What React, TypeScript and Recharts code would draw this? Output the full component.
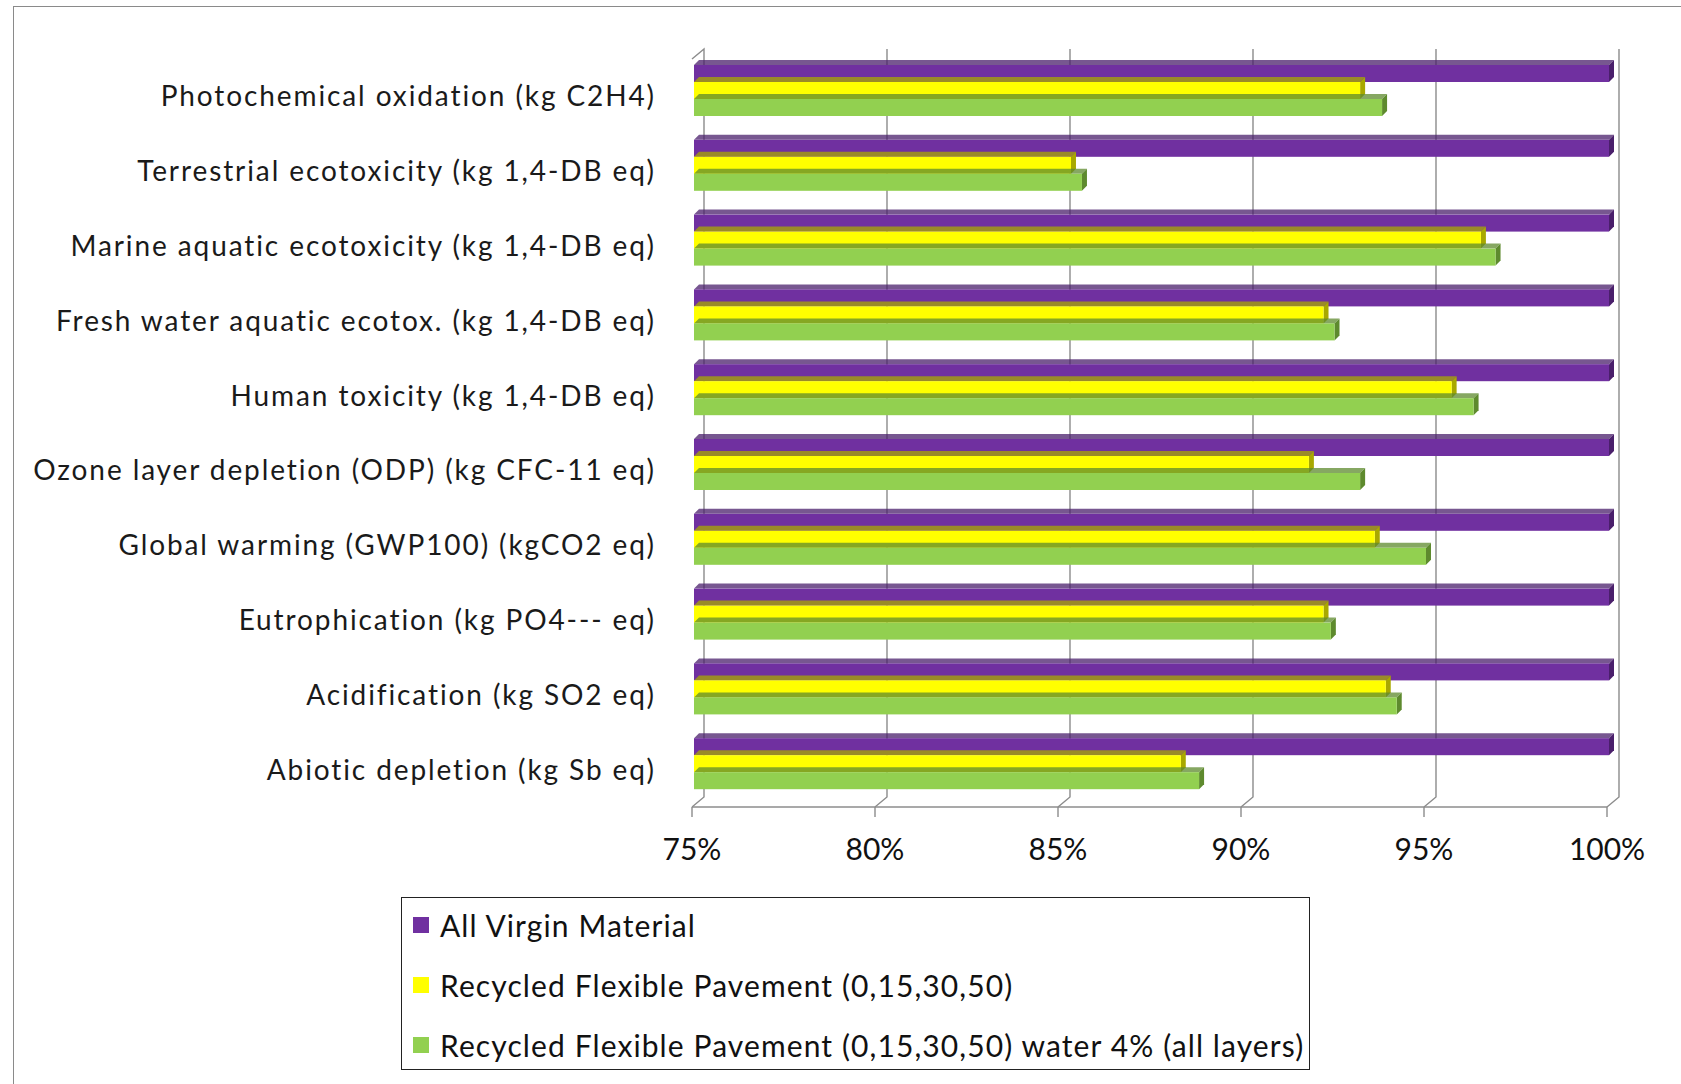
import { BarChart, Bar, XAxis, YAxis, CartesianGrid } from "recharts";

const categories = [
  "Photochemical oxidation (kg C2H4)",
  "Terrestrial ecotoxicity (kg 1,4-DB eq)",
  "Marine aquatic ecotoxicity (kg 1,4-DB eq)",
  "Fresh water aquatic ecotox. (kg 1,4-DB eq)",
  "Human toxicity (kg 1,4-DB eq)",
  "Ozone layer depletion (ODP) (kg CFC-11 eq)",
  "Global warming (GWP100) (kgCO2 eq)",
  "Eutrophication (kg PO4--- eq)",
  "Acidification (kg SO2 eq)",
  "Abiotic depletion (kg Sb eq)",
];

const virgin = [100, 100, 100, 100, 100, 100, 100, 100, 100, 100];
const recycled = [93.2, 85.3, 96.5, 92.2, 95.7, 91.8, 93.6, 92.2, 93.9, 88.3];
const recycledWater = [93.8, 85.6, 96.9, 92.5, 96.3, 93.2, 95.0, 92.4, 94.2, 88.8];

const xTicks = [75, 80, 85, 90, 95, 100];
const edgeTicks = [0, 1, 2, 3, 4, 5, 6, 7, 8, 9, 10];

const seriesKeys = ["virgin", "recycled", "recycledWater"];
const seriesNames = [
  "All Virgin Material",
  "Recycled Flexible Pavement (0,15,30,50)",
  "Recycled Flexible Pavement (0,15,30,50) water 4% (all layers)",
];
const seriesColors = ["#7030A0", "#FFFF00", "#92D050"];
const seriesDark = ["#4a1f6b", "#a8a800", "#5e8a2e"];

const data = categories.map((name, i) => ({
  name,
  virgin: virgin[i],
  recycled: recycled[i],
  recycledWater: recycledWater[i],
}));

// 3d look: depth of the walls and of the bars
const DX = 12;
const DY = 10;
const BD = 5;
const gridColor = "#8c8c8c";

function Bar3D(props: any) {
  const { x: x0, y: y0, width, height, fill, dark } = props;
  if (!width || width <= 0) return null;
  const x = x0 + 2;
  const y = y0 - 6;
  const r = x + width;
  return (
    <g>
      <polygon
        points={`${x},${y} ${x + BD},${y - BD} ${r + BD},${y - BD} ${r},${y}`}
        fill={dark}
        opacity={0.75}
      />
      <polygon
        points={`${r},${y} ${r + BD},${y - BD} ${r + BD},${y + height - BD} ${r},${y + height}`}
        fill={dark}
      />
      <rect x={x} y={y} width={width} height={height} fill={fill} />
    </g>
  );
}

function gridLine(p: any) {
  const { x1, y1, y2 } = p;
  const pts =
    p.index === 0
      ? `${x1},${y1} ${x1 + DX},${y1 - DY} ${x1 + DX},${y2 - DY} ${x1},${y2}`
      : `${x1},${y2} ${x1 + DX},${y2 - DY} ${x1 + DX},${y1 - DY}`;
  return (
    <polyline
      key={p.key}
      points={pts}
      fill="none"
      stroke={gridColor}
      strokeWidth={1.4}
    />
  );
}

function CategoryTick(props: any) {
  const { x, y, payload } = props;
  return (
    <text
      x={x}
      y={y}
      dy={10}
      textAnchor="end"
      fontFamily="Lato"
      fontSize={28}
      letterSpacing={1.9}
      fill="#1a1a1a"
    >
      {payload.value}
    </text>
  );
}

export default function App() {
  return (
    <div
      style={{
        position: "absolute",
        left: 0,
        top: 0,
        width: 1681,
        height: 1084,
        background: "#fff",
        overflow: "hidden",
      }}
    >
      <div
        style={{
          position: "absolute",
          left: 13,
          top: 6,
          width: 1700,
          height: 1100,
          borderTop: "1.5px solid #8a8a8a",
          borderLeft: "1.5px solid #8a8a8a",
        }}
      />
      <div style={{ position: "absolute", left: 0, top: 0 }}>
        <BarChart
          width={1681}
          height={1084}
          data={data}
          layout="vertical"
          margin={{ top: 59, right: 74, bottom: 217, left: 12 }}
          barGap={0}
          barSize={17}
        >
          <CartesianGrid horizontal={false} vertical={gridLine} />
          <XAxis
            type="number"
            domain={[75, 100]}
            ticks={xTicks}
            tickFormatter={(v: number) => `${v}%`}
            height={60}
            tickSize={10}
            tickMargin={22}
            axisLine={{ stroke: gridColor, strokeWidth: 1.4 }}
            tickLine={{ stroke: gridColor, strokeWidth: 1.4 }}
            tick={{ fontFamily: "Lato", fontSize: 30, fill: "#111" }}
          />
          <YAxis
            yAxisId="edges"
            type="number"
            domain={[0, 10]}
            ticks={edgeTicks}
            reversed
            width={0}
            tickSize={9}
            tick={() => <g />}
            axisLine={{ stroke: gridColor, strokeWidth: 1.4 }}
            tickLine={{ stroke: gridColor, strokeWidth: 1.4 }}
          />
          <YAxis
            type="category"
            dataKey="name"
            width={680}
            axisLine={false}
            tickLine={false}
            tickSize={0}
            tickMargin={36}
            tick={<CategoryTick />}
            interval={0}
          />
          {seriesKeys.map((k, i) => (
            <Bar
              key={k}
              dataKey={k}
              name={seriesNames[i]}
              fill={seriesColors[i]}
              isAnimationActive={false}
              shape={(p: any) => <Bar3D {...p} dark={seriesDark[i]} />}
            />
          ))}
        </BarChart>
      </div>
      <div
        style={{
          position: "absolute",
          left: 401,
          top: 897,
          width: 907,
          height: 171,
          border: "1.5px solid #222",
          fontFamily: "Lato",
          fontSize: 30,
          letterSpacing: 1.1,
          color: "#111",
        }}
      >
        {seriesNames.map((n, i) => (
          <div
            key={n}
            style={{
              position: "absolute",
              left: 11,
              top: 10 + i * 60,
              height: 34,
              display: "flex",
              alignItems: "center",
              whiteSpace: "nowrap",
            }}
          >
            <span
              style={{
                display: "inline-block",
                width: 16,
                height: 16,
                background: seriesColors[i],
                marginRight: 11,
              }}
            />
            {n}
          </div>
        ))}
      </div>
    </div>
  );
}
